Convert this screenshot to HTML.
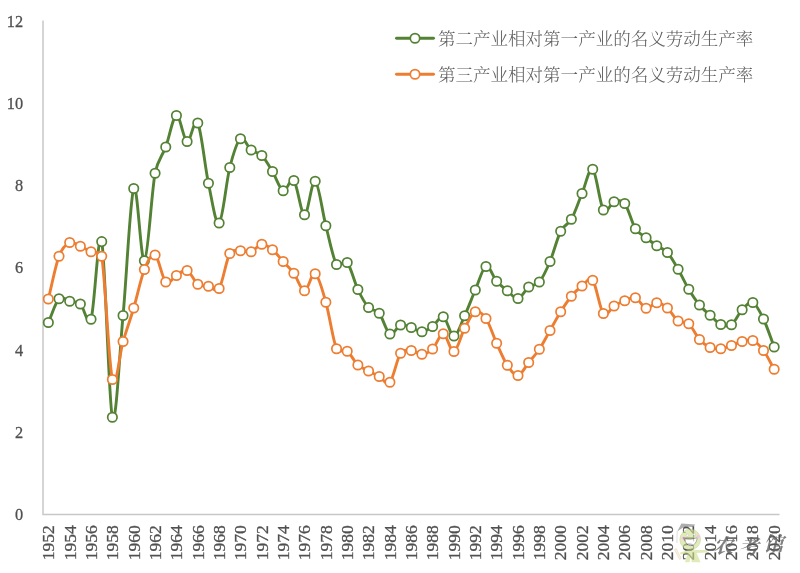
<!DOCTYPE html>
<html lang="zh-CN"><head><meta charset="utf-8"><title>chart</title>
<style>
html,body{margin:0;padding:0;background:#fff;}
body{width:800px;height:573px;overflow:hidden;}
svg{display:block;}
.num{font-family:"Liberation Serif","Noto Serif CJK SC",serif;font-size:17px;fill:#505050;stroke:#505050;stroke-width:.3px;}
.leg{font-family:"Liberation Serif","Noto Serif CJK SC",serif;font-size:17.53px;fill:#606060;font-weight:300;}
.wm{font-family:"Liberation Serif","Noto Serif CJK SC",serif;font-size:20px;fill:#606060;font-style:italic;font-weight:700;}
</style></head><body>
<svg width="800" height="573" viewBox="0 0 800 573">
<rect width="800" height="573" fill="#fff"/>
<path d="M43.0,20.5V514.5H779.5" fill="none" stroke="#c8c8c8" stroke-width="1.5"/>
<text class="num" transform="translate(23.1,520.10) scale(0.96,1.045)" text-anchor="end">0</text>
<text class="num" transform="translate(23.1,437.89) scale(0.96,1.045)" text-anchor="end">2</text>
<text class="num" transform="translate(23.1,355.68) scale(0.96,1.045)" text-anchor="end">4</text>
<text class="num" transform="translate(23.1,273.48) scale(0.96,1.045)" text-anchor="end">6</text>
<text class="num" transform="translate(23.1,191.27) scale(0.96,1.045)" text-anchor="end">8</text>
<text class="num" transform="translate(23.1,109.06) scale(0.96,1.045)" text-anchor="end">10</text>
<text class="num" transform="translate(23.1,26.85) scale(0.96,1.045)" text-anchor="end">12</text>
<text class="num" transform="translate(54.45,560.3) rotate(-90) scale(1.035,1.035)">1952</text>
<text class="num" transform="translate(75.78,560.3) rotate(-90) scale(1.035,1.035)">1954</text>
<text class="num" transform="translate(97.11,560.3) rotate(-90) scale(1.035,1.035)">1956</text>
<text class="num" transform="translate(118.43,560.3) rotate(-90) scale(1.035,1.035)">1958</text>
<text class="num" transform="translate(139.76,560.3) rotate(-90) scale(1.035,1.035)">1960</text>
<text class="num" transform="translate(161.09,560.3) rotate(-90) scale(1.035,1.035)">1962</text>
<text class="num" transform="translate(182.42,560.3) rotate(-90) scale(1.035,1.035)">1964</text>
<text class="num" transform="translate(203.75,560.3) rotate(-90) scale(1.035,1.035)">1966</text>
<text class="num" transform="translate(225.07,560.3) rotate(-90) scale(1.035,1.035)">1968</text>
<text class="num" transform="translate(246.40,560.3) rotate(-90) scale(1.035,1.035)">1970</text>
<text class="num" transform="translate(267.73,560.3) rotate(-90) scale(1.035,1.035)">1972</text>
<text class="num" transform="translate(289.06,560.3) rotate(-90) scale(1.035,1.035)">1974</text>
<text class="num" transform="translate(310.39,560.3) rotate(-90) scale(1.035,1.035)">1976</text>
<text class="num" transform="translate(331.71,560.3) rotate(-90) scale(1.035,1.035)">1978</text>
<text class="num" transform="translate(353.04,560.3) rotate(-90) scale(1.035,1.035)">1980</text>
<text class="num" transform="translate(374.37,560.3) rotate(-90) scale(1.035,1.035)">1982</text>
<text class="num" transform="translate(395.70,560.3) rotate(-90) scale(1.035,1.035)">1984</text>
<text class="num" transform="translate(417.03,560.3) rotate(-90) scale(1.035,1.035)">1986</text>
<text class="num" transform="translate(438.35,560.3) rotate(-90) scale(1.035,1.035)">1988</text>
<text class="num" transform="translate(459.68,560.3) rotate(-90) scale(1.035,1.035)">1990</text>
<text class="num" transform="translate(481.01,560.3) rotate(-90) scale(1.035,1.035)">1992</text>
<text class="num" transform="translate(502.34,560.3) rotate(-90) scale(1.035,1.035)">1994</text>
<text class="num" transform="translate(523.67,560.3) rotate(-90) scale(1.035,1.035)">1996</text>
<text class="num" transform="translate(544.99,560.3) rotate(-90) scale(1.035,1.035)">1998</text>
<text class="num" transform="translate(566.32,560.3) rotate(-90) scale(1.035,1.035)">2000</text>
<text class="num" transform="translate(587.65,560.3) rotate(-90) scale(1.035,1.035)">2002</text>
<text class="num" transform="translate(608.98,560.3) rotate(-90) scale(1.035,1.035)">2004</text>
<text class="num" transform="translate(630.31,560.3) rotate(-90) scale(1.035,1.035)">2006</text>
<text class="num" transform="translate(651.63,560.3) rotate(-90) scale(1.035,1.035)">2008</text>
<text class="num" transform="translate(672.96,560.3) rotate(-90) scale(1.035,1.035)">2010</text>
<text class="num" transform="translate(694.29,560.3) rotate(-90) scale(1.035,1.035)">2012</text>
<text class="num" transform="translate(715.62,560.3) rotate(-90) scale(1.035,1.035)">2014</text>
<text class="num" transform="translate(736.95,560.3) rotate(-90) scale(1.035,1.035)">2016</text>
<text class="num" transform="translate(758.27,560.3) rotate(-90) scale(1.035,1.035)">2018</text>
<text class="num" transform="translate(779.60,560.3) rotate(-90) scale(1.035,1.035)">2020</text>
<g opacity="0.62"><path d="M677.2,531.2L676.9,543" stroke="#bdbdbd" stroke-width="0.8" fill="none"/><path d="M687.5,550.5L680,552.6L680.6,554.6L687.6,553.4L685,562.3H689.6L690.6,556.5L691.8,562.3H700.6L696.6,553L706.8,552.6L707.6,550L696,550Z" fill="#cfe08f"/><circle cx="690.2" cy="539.5" r="10.3" fill="#cfe08f" stroke="#b3c777" stroke-width="0.8"/><path d="M681.4,523.4L695.2,524.6L693.3,527L684.2,526.8L677.2,531.4Z" fill="#7d7d7d"/><path d="M684.8,538.9Q691,540.2 697.3,537.7Q696,545.8 690.6,545.7Q685.6,545.5 684.8,538.9Z" fill="#fff" stroke="#555" stroke-width="0.7"/><circle cx="687.4" cy="535.3" r="1.2" fill="#f4f4f4" stroke="#888" stroke-width="0.4"/><circle cx="694.4" cy="534.5" r="1.2" fill="#f4f4f4" stroke="#888" stroke-width="0.4"/><circle cx="683.3" cy="538.2" r="1.6" fill="#f29be0"/><circle cx="698.2" cy="536.6" r="1.6" fill="#f29be0"/><path d="M674.5,549.6L676.2,548.6L681.2,558.4L679.6,559.4Z" fill="#f6ead6" stroke="#e6b98c" stroke-width="0.6"/></g>
<g opacity="0.8"><text class="wm" x="713" y="553">农</text><text class="wm" x="739" y="553.5">考</text><text class="wm" x="763.5" y="550.5">馆</text></g>
<path d="M48.34,322.50C51.89,314.58 55.45,302.29 59.01,298.75C62.57,295.21 66.13,300.38 69.68,301.25C73.24,302.12 76.80,301.00 80.36,304.00C83.92,307.00 88.02,328.06 91.03,319.25C94.59,308.85 98.15,225.27 101.71,241.60C105.26,257.93 108.82,404.93 112.38,417.25C115.94,429.57 119.50,353.62 123.05,315.50C126.61,277.38 130.17,197.62 133.73,188.50C137.29,179.38 140.84,263.29 144.40,260.75C147.96,258.21 151.52,192.21 155.08,173.25C157.69,159.32 162.19,156.62 165.75,147.00C169.31,137.38 172.87,116.42 176.42,115.50C179.98,114.58 183.54,140.25 187.10,141.50C190.66,142.75 194.21,116.04 197.77,123.00C201.33,129.96 204.89,166.58 208.45,183.25C212.00,199.92 215.56,225.62 219.12,223.00C222.68,220.38 226.24,181.54 229.79,167.50C233.35,153.46 236.91,141.67 240.47,138.75C244.03,135.83 247.58,147.21 251.14,150.00C254.70,152.79 258.26,151.92 261.82,155.50C265.37,159.08 268.93,165.62 272.49,171.50C276.05,177.38 279.61,189.25 283.16,190.75C286.72,192.25 290.28,176.50 293.84,180.50C297.39,184.50 300.95,214.62 304.51,214.75C308.07,214.88 311.63,179.42 315.18,181.25C318.74,183.08 322.30,211.88 325.86,225.75C329.42,239.62 332.97,258.38 336.53,264.50C339.26,269.20 343.68,258.37 347.21,262.50C350.76,266.67 354.32,282.00 357.88,289.50C361.44,297.00 365.00,303.54 368.55,307.50C372.11,311.46 375.67,308.83 379.23,313.25C382.79,317.67 386.34,332.04 389.90,334.00C393.46,335.96 397.02,326.08 400.58,325.00C404.13,323.92 407.69,326.38 411.25,327.50C414.81,328.62 418.37,331.92 421.92,331.75C425.48,331.58 429.04,329.00 432.60,326.50C436.16,324.00 439.71,315.17 443.27,316.75C446.83,318.33 450.39,336.17 453.95,336.00C457.50,335.83 461.06,323.42 464.62,315.75C468.18,308.08 471.74,298.21 475.29,290.00C478.85,281.79 482.41,267.96 485.97,266.50C489.53,265.04 493.08,277.21 496.64,281.25C500.20,285.29 503.76,287.88 507.32,290.75C510.87,293.62 514.43,299.12 517.99,298.50C521.55,297.88 525.11,289.75 528.66,287.00C532.22,284.25 535.78,286.25 539.34,282.00C542.89,277.75 546.45,269.96 550.01,261.50C553.57,253.04 557.13,238.29 560.68,231.25C564.24,224.21 567.80,225.54 571.36,219.25C574.92,212.96 578.47,201.83 582.03,193.50C585.59,185.17 589.15,166.50 592.71,169.25C596.26,172.00 599.82,204.58 603.38,210.00C606.94,215.42 610.50,202.83 614.05,201.75C617.61,200.67 621.37,199.26 624.73,203.50C628.29,208.00 631.84,223.04 635.40,228.75C638.96,234.46 642.52,234.92 646.08,237.75C649.63,240.58 653.19,243.29 656.75,245.75C660.31,248.21 663.87,248.58 667.42,252.50C670.98,256.42 674.54,263.12 678.10,269.25C681.66,275.38 685.21,283.29 688.77,289.25C692.33,295.21 695.89,300.67 699.45,305.00C703.00,309.33 706.56,312.00 710.12,315.25C713.68,318.50 717.24,322.92 720.79,324.50C724.35,326.08 727.91,327.21 731.47,324.75C735.03,322.29 738.58,313.46 742.14,309.75C745.70,306.04 749.26,300.96 752.82,302.50C756.37,304.04 759.93,311.58 763.49,319.00C767.05,326.42 770.61,337.67 774.16,347.00" fill="none" stroke="#548235" stroke-width="2.90" stroke-linecap="round" stroke-linejoin="round"/>
<g fill="#fff" stroke="#548235" stroke-width="1.70"><circle cx="48.34" cy="322.50" r="4.70"/><circle cx="59.01" cy="298.75" r="4.70"/><circle cx="69.68" cy="301.25" r="4.70"/><circle cx="80.36" cy="304.00" r="4.70"/><circle cx="91.03" cy="319.25" r="4.70"/><circle cx="101.71" cy="241.60" r="4.70"/><circle cx="112.38" cy="417.25" r="4.70"/><circle cx="123.05" cy="315.50" r="4.70"/><circle cx="133.73" cy="188.50" r="4.70"/><circle cx="144.40" cy="260.75" r="4.70"/><circle cx="155.08" cy="173.25" r="4.70"/><circle cx="165.75" cy="147.00" r="4.70"/><circle cx="176.42" cy="115.50" r="4.70"/><circle cx="187.10" cy="141.50" r="4.70"/><circle cx="197.77" cy="123.00" r="4.70"/><circle cx="208.45" cy="183.25" r="4.70"/><circle cx="219.12" cy="223.00" r="4.70"/><circle cx="229.79" cy="167.50" r="4.70"/><circle cx="240.47" cy="138.75" r="4.70"/><circle cx="251.14" cy="150.00" r="4.70"/><circle cx="261.82" cy="155.50" r="4.70"/><circle cx="272.49" cy="171.50" r="4.70"/><circle cx="283.16" cy="190.75" r="4.70"/><circle cx="293.84" cy="180.50" r="4.70"/><circle cx="304.51" cy="214.75" r="4.70"/><circle cx="315.18" cy="181.25" r="4.70"/><circle cx="325.86" cy="225.75" r="4.70"/><circle cx="336.53" cy="264.50" r="4.70"/><circle cx="347.21" cy="262.50" r="4.70"/><circle cx="357.88" cy="289.50" r="4.70"/><circle cx="368.55" cy="307.50" r="4.70"/><circle cx="379.23" cy="313.25" r="4.70"/><circle cx="389.90" cy="334.00" r="4.70"/><circle cx="400.58" cy="325.00" r="4.70"/><circle cx="411.25" cy="327.50" r="4.70"/><circle cx="421.92" cy="331.75" r="4.70"/><circle cx="432.60" cy="326.50" r="4.70"/><circle cx="443.27" cy="316.75" r="4.70"/><circle cx="453.95" cy="336.00" r="4.70"/><circle cx="464.62" cy="315.75" r="4.70"/><circle cx="475.29" cy="290.00" r="4.70"/><circle cx="485.97" cy="266.50" r="4.70"/><circle cx="496.64" cy="281.25" r="4.70"/><circle cx="507.32" cy="290.75" r="4.70"/><circle cx="517.99" cy="298.50" r="4.70"/><circle cx="528.66" cy="287.00" r="4.70"/><circle cx="539.34" cy="282.00" r="4.70"/><circle cx="550.01" cy="261.50" r="4.70"/><circle cx="560.68" cy="231.25" r="4.70"/><circle cx="571.36" cy="219.25" r="4.70"/><circle cx="582.03" cy="193.50" r="4.70"/><circle cx="592.71" cy="169.25" r="4.70"/><circle cx="603.38" cy="210.00" r="4.70"/><circle cx="614.05" cy="201.75" r="4.70"/><circle cx="624.73" cy="203.50" r="4.70"/><circle cx="635.40" cy="228.75" r="4.70"/><circle cx="646.08" cy="237.75" r="4.70"/><circle cx="656.75" cy="245.75" r="4.70"/><circle cx="667.42" cy="252.50" r="4.70"/><circle cx="678.10" cy="269.25" r="4.70"/><circle cx="688.77" cy="289.25" r="4.70"/><circle cx="699.45" cy="305.00" r="4.70"/><circle cx="710.12" cy="315.25" r="4.70"/><circle cx="720.79" cy="324.50" r="4.70"/><circle cx="731.47" cy="324.75" r="4.70"/><circle cx="742.14" cy="309.75" r="4.70"/><circle cx="752.82" cy="302.50" r="4.70"/><circle cx="763.49" cy="319.00" r="4.70"/><circle cx="774.16" cy="347.00" r="4.70"/></g>
<path d="M48.34,299.00C51.89,284.75 55.45,265.67 59.01,256.25C62.09,248.11 66.13,244.17 69.68,242.50C73.24,240.83 76.80,244.71 80.36,246.25C83.92,247.79 87.47,250.08 91.03,251.75C94.59,253.42 100.75,250.54 101.71,256.25C105.26,277.54 108.82,365.29 112.38,379.50C115.94,393.71 119.50,353.42 123.05,341.50C126.61,329.58 130.17,320.00 133.73,308.00C137.29,296.00 140.84,278.33 144.40,269.50C147.77,261.15 151.52,252.92 155.08,255.00C158.63,257.08 162.19,278.58 165.75,282.00C169.31,285.42 172.87,277.42 176.42,275.50C179.98,273.58 183.54,269.04 187.10,270.50C190.66,271.96 194.21,281.62 197.77,284.25C201.33,286.88 204.89,285.54 208.45,286.25C212.00,286.96 216.14,293.07 219.12,288.50C222.68,283.04 226.24,259.79 229.79,253.50C232.51,248.70 236.91,251.04 240.47,250.75C244.03,250.46 247.58,252.83 251.14,251.75C254.70,250.67 258.26,244.58 261.82,244.25C265.37,243.92 268.93,246.88 272.49,249.75C276.05,252.62 279.61,257.58 283.16,261.50C286.72,265.42 290.28,268.38 293.84,273.25C297.39,278.12 300.95,290.67 304.51,290.75C308.07,290.83 311.63,271.83 315.18,273.75C318.74,275.67 322.30,289.75 325.86,302.25C329.42,314.75 332.97,340.58 336.53,348.75C338.72,353.78 343.65,348.54 347.21,351.25C350.76,353.96 354.32,361.71 357.88,365.00C361.44,368.29 365.00,369.08 368.55,371.00C372.11,372.92 375.67,374.62 379.23,376.50C382.79,378.38 386.34,386.12 389.90,382.25C393.46,378.38 397.02,358.54 400.58,353.25C403.65,348.68 407.69,350.33 411.25,350.50C414.81,350.67 418.37,354.50 421.92,354.25C425.48,354.00 429.04,352.42 432.60,349.00C436.16,345.58 439.71,333.33 443.27,333.75C446.83,334.17 450.39,352.42 453.95,351.50C457.50,350.58 461.06,334.88 464.62,328.25C468.18,321.62 471.74,313.38 475.29,311.75C478.85,310.12 482.42,313.27 485.97,318.50C489.53,323.75 493.08,335.46 496.64,343.25C500.20,351.04 503.76,359.88 507.32,365.25C510.87,370.62 514.43,375.96 517.99,375.50C521.55,375.04 525.11,366.88 528.66,362.50C532.22,358.12 535.78,354.58 539.34,349.25C542.89,343.92 546.45,336.75 550.01,330.50C553.57,324.25 557.13,317.46 560.68,311.75C564.24,306.04 567.80,300.54 571.36,296.25C574.92,291.96 578.47,288.67 582.03,286.00C585.59,283.33 589.15,275.67 592.71,280.25C596.26,284.83 599.82,309.21 603.38,313.50C606.94,317.79 610.50,308.12 614.05,306.00C617.61,303.88 621.17,302.12 624.73,300.75C628.29,299.38 631.84,296.50 635.40,297.75C638.96,299.00 642.52,307.42 646.08,308.25C649.63,309.08 653.19,302.79 656.75,302.75C660.31,302.71 663.87,304.96 667.42,308.00C670.98,311.04 674.54,318.38 678.10,321.00C681.66,323.62 685.21,320.67 688.77,323.75C692.33,326.83 695.89,335.54 699.45,339.50C703.00,343.46 706.56,345.96 710.12,347.50C713.68,349.04 717.24,349.08 720.79,348.75C724.35,348.42 727.91,346.71 731.47,345.50C735.03,344.29 738.58,342.33 742.14,341.50C745.70,340.67 749.26,339.00 752.82,340.50C756.37,342.00 759.93,345.71 763.49,350.50C767.05,355.29 770.61,363.00 774.16,369.25" fill="none" stroke="#ED7D31" stroke-width="2.90" stroke-linecap="round" stroke-linejoin="round"/>
<g fill="#fff" stroke="#ED7D31" stroke-width="1.70"><circle cx="48.34" cy="299.00" r="4.70"/><circle cx="59.01" cy="256.25" r="4.70"/><circle cx="69.68" cy="242.50" r="4.70"/><circle cx="80.36" cy="246.25" r="4.70"/><circle cx="91.03" cy="251.75" r="4.70"/><circle cx="101.71" cy="256.25" r="4.70"/><circle cx="112.38" cy="379.50" r="4.70"/><circle cx="123.05" cy="341.50" r="4.70"/><circle cx="133.73" cy="308.00" r="4.70"/><circle cx="144.40" cy="269.50" r="4.70"/><circle cx="155.08" cy="255.00" r="4.70"/><circle cx="165.75" cy="282.00" r="4.70"/><circle cx="176.42" cy="275.50" r="4.70"/><circle cx="187.10" cy="270.50" r="4.70"/><circle cx="197.77" cy="284.25" r="4.70"/><circle cx="208.45" cy="286.25" r="4.70"/><circle cx="219.12" cy="288.50" r="4.70"/><circle cx="229.79" cy="253.50" r="4.70"/><circle cx="240.47" cy="250.75" r="4.70"/><circle cx="251.14" cy="251.75" r="4.70"/><circle cx="261.82" cy="244.25" r="4.70"/><circle cx="272.49" cy="249.75" r="4.70"/><circle cx="283.16" cy="261.50" r="4.70"/><circle cx="293.84" cy="273.25" r="4.70"/><circle cx="304.51" cy="290.75" r="4.70"/><circle cx="315.18" cy="273.75" r="4.70"/><circle cx="325.86" cy="302.25" r="4.70"/><circle cx="336.53" cy="348.75" r="4.70"/><circle cx="347.21" cy="351.25" r="4.70"/><circle cx="357.88" cy="365.00" r="4.70"/><circle cx="368.55" cy="371.00" r="4.70"/><circle cx="379.23" cy="376.50" r="4.70"/><circle cx="389.90" cy="382.25" r="4.70"/><circle cx="400.58" cy="353.25" r="4.70"/><circle cx="411.25" cy="350.50" r="4.70"/><circle cx="421.92" cy="354.25" r="4.70"/><circle cx="432.60" cy="349.00" r="4.70"/><circle cx="443.27" cy="333.75" r="4.70"/><circle cx="453.95" cy="351.50" r="4.70"/><circle cx="464.62" cy="328.25" r="4.70"/><circle cx="475.29" cy="311.75" r="4.70"/><circle cx="485.97" cy="318.50" r="4.70"/><circle cx="496.64" cy="343.25" r="4.70"/><circle cx="507.32" cy="365.25" r="4.70"/><circle cx="517.99" cy="375.50" r="4.70"/><circle cx="528.66" cy="362.50" r="4.70"/><circle cx="539.34" cy="349.25" r="4.70"/><circle cx="550.01" cy="330.50" r="4.70"/><circle cx="560.68" cy="311.75" r="4.70"/><circle cx="571.36" cy="296.25" r="4.70"/><circle cx="582.03" cy="286.00" r="4.70"/><circle cx="592.71" cy="280.25" r="4.70"/><circle cx="603.38" cy="313.50" r="4.70"/><circle cx="614.05" cy="306.00" r="4.70"/><circle cx="624.73" cy="300.75" r="4.70"/><circle cx="635.40" cy="297.75" r="4.70"/><circle cx="646.08" cy="308.25" r="4.70"/><circle cx="656.75" cy="302.75" r="4.70"/><circle cx="667.42" cy="308.00" r="4.70"/><circle cx="678.10" cy="321.00" r="4.70"/><circle cx="688.77" cy="323.75" r="4.70"/><circle cx="699.45" cy="339.50" r="4.70"/><circle cx="710.12" cy="347.50" r="4.70"/><circle cx="720.79" cy="348.75" r="4.70"/><circle cx="731.47" cy="345.50" r="4.70"/><circle cx="742.14" cy="341.50" r="4.70"/><circle cx="752.82" cy="340.50" r="4.70"/><circle cx="763.49" cy="350.50" r="4.70"/><circle cx="774.16" cy="369.25" r="4.70"/></g>
<path d="M396.5,38.25H433.5" stroke="#548235" stroke-width="2.90" stroke-linecap="round"/><circle cx="415" cy="38.25" r="4.70" fill="#fff" stroke="#548235" stroke-width="1.70"/><text class="leg" x="438" y="44.55">第二产业相对第一产业的名义劳动生产率</text>
<path d="M396.5,74.25H433.5" stroke="#ED7D31" stroke-width="2.90" stroke-linecap="round"/><circle cx="415" cy="74.25" r="4.70" fill="#fff" stroke="#ED7D31" stroke-width="1.70"/><text class="leg" x="438" y="80.55">第三产业相对第一产业的名义劳动生产率</text>
</svg>
</body></html>
